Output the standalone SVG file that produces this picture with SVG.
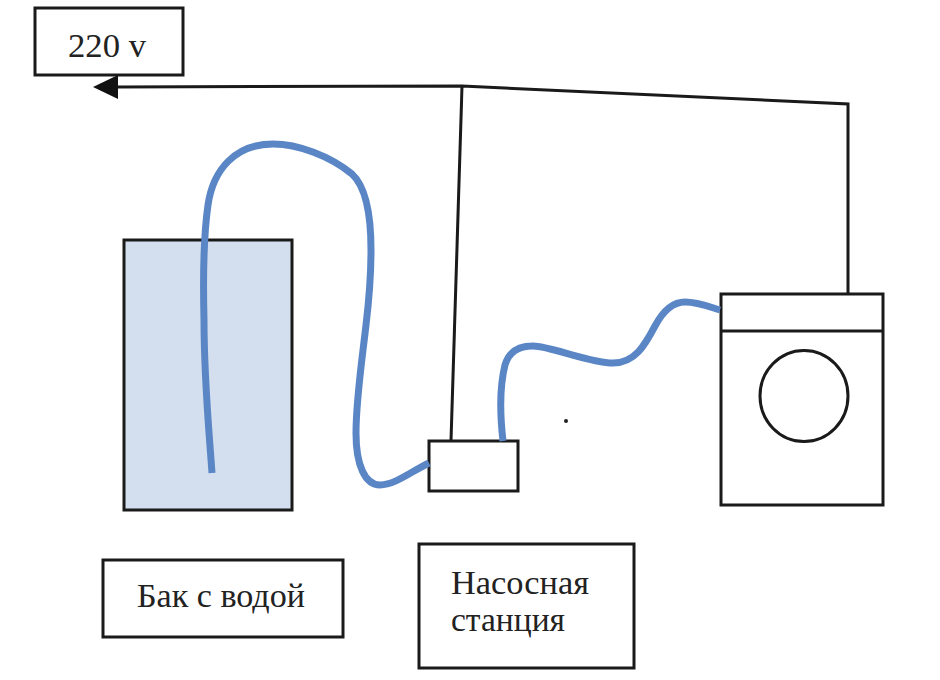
<svg xmlns="http://www.w3.org/2000/svg" width="940" height="680" viewBox="0 0 940 680">
  <style>
    .box { fill: #fff; stroke: #1a1a1a; stroke-width: 3; }
    .wire { fill: none; stroke: #1a1a1a; stroke-width: 3; }
    .hose { fill: none; stroke: #5b86c6; stroke-width: 7; stroke-linecap: butt; stroke-linejoin: round; }
    .label { font-family: "Liberation Serif", "Times New Roman", serif; font-size: 33px; fill: #222; }
  </style>
  <rect width="940" height="680" fill="#fff"/>

  <g id="tank">
    <rect x="124" y="240" width="168" height="270" fill="#d3dfef" stroke="#1a1a1a" stroke-width="3"/>
  </g>

  <g id="power">
    <rect class="box" x="35" y="8" width="148" height="67"/>
    <text class="label" x="68" y="57" textLength="78" lengthAdjust="spacingAndGlyphs">220 v</text>
  </g>

  <g id="pump">
    <rect class="box" x="429" y="441" width="89" height="50"/>
  </g>

  <g id="washer">
    <rect class="box" x="721" y="294" width="162" height="211"/>
    <line class="wire" x1="721" y1="331" x2="883" y2="331"/>
    <ellipse class="wire" cx="804" cy="396" rx="44" ry="45.5"/>
  </g>

  <g id="tank-label">
    <rect class="box" x="103" y="560" width="240" height="77"/>
    <text class="label" x="137" y="607" textLength="168" lengthAdjust="spacingAndGlyphs">Бак с водой</text>
  </g>

  <g id="pump-label">
    <rect class="box" x="419" y="544" width="215" height="124"/>
    <text class="label" x="451" y="594" textLength="138" lengthAdjust="spacingAndGlyphs">Насосная</text>
    <text class="label" x="451" y="631" textLength="114" lengthAdjust="spacingAndGlyphs">станция</text>
  </g>

  <g id="connectors">
    <polyline class="wire" points="118,87 462,86 848,104 848,294"/>
    <line class="wire" x1="462" y1="86" x2="451" y2="441"/>
    <polygon points="93,87 118,75 118,99" fill="#111"/>
    <path class="hose" d="M212 473 C209 430 204 380 204 320 C203 280 203 240 208 205 C213 170 235 144 273 144 C298 144 330 156 352 174 C364 185 371 210 371 250 C371 280 369 300 366 325 C362 360 356 400 356 433 C356 465 365 485 380 485 C395 485 412 471 429 463"/>
    <path class="hose" d="M503 441 C500 415 500 385 505 365 C509 351 520 346 533 346 C550 346 590 363 613 363 C635 363 645 345 655 326 C663 311 672 302 685 302 C698 302 710 307 720 310"/>
  </g>

  <circle id="speck" cx="566" cy="421" r="2" fill="#222"/>
</svg>
